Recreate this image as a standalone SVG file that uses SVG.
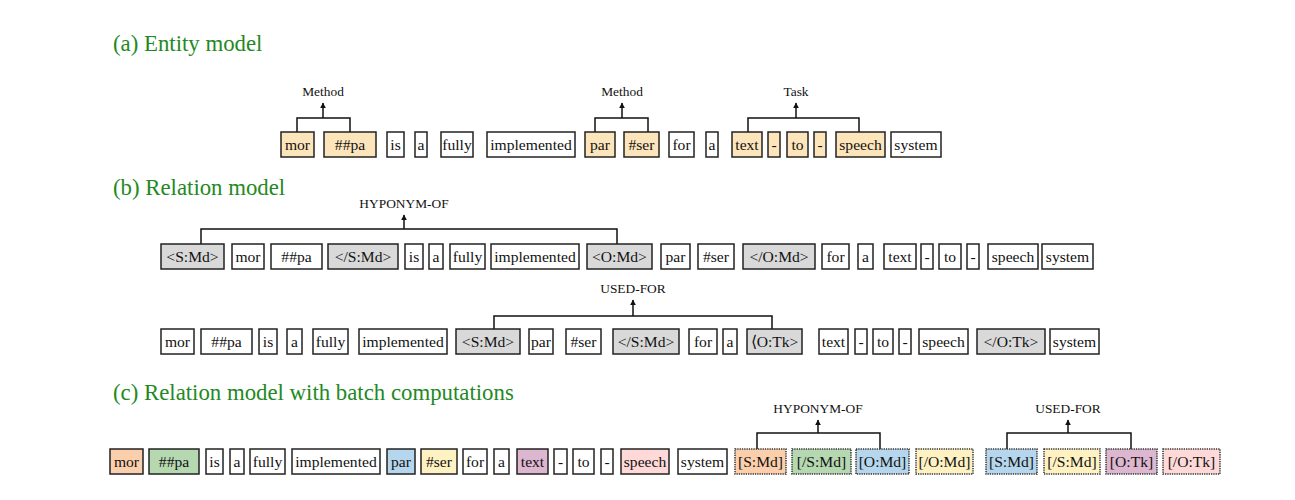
<svg xmlns="http://www.w3.org/2000/svg" width="1295" height="500" viewBox="0 0 1295 500">
<style>
.bg{fill:#fff}
.title{font-family:"Liberation Serif",serif;font-size:22.8px;fill:#23891f}
.lbl{font-family:"Liberation Serif",serif;font-size:13.4px;fill:#111;text-anchor:middle}
.tok rect{fill:#fff;stroke:#222;stroke-width:1.5}
.tok text{font-family:"Liberation Serif",serif;font-size:15.6px;fill:#111;text-anchor:middle}
.tok.o rect{fill:#fde5bb}
.tok.g rect{fill:#d9d9d9}
.tok.pe rect{fill:#fccfac}
.tok.gr rect{fill:#b5d8b0}
.tok.bl rect{fill:#b5d6ec}
.tok.ye rect{fill:#fff2c2}
.tok.pu rect{fill:#ddb6cf}
.tok.pk rect{fill:#ffd8d8}
.tok.d rect{stroke-dasharray:1.3 1;stroke:#333}
.con path{fill:none;stroke:#111;stroke-width:1.5}
</style>
<defs>
<marker id="ah" viewBox="0 0 10 10" refX="9" refY="5" markerWidth="6" markerHeight="7" markerUnits="userSpaceOnUse" orient="auto"><path d="M0,0 L10,5 L0,10 z" fill="#111"/></marker>
</defs>
<rect class="bg" x="0" y="0" width="1295" height="500"/>
<text class="title" x="113" y="51">(a) Entity model</text>
<text class="title" x="113" y="195">(b) Relation model</text>
<text class="title" x="113" y="400">(c) Relation model with batch computations</text>

<g id="labels">
<text class="lbl" x="323" y="96">Method</text>
<text class="lbl" x="622" y="96">Method</text>
<text class="lbl" x="796" y="96">Task</text>
<text class="lbl" x="404" y="208">HYPONYM-OF</text>
<text class="lbl" x="633" y="293">USED-FOR</text>
<text class="lbl" x="818" y="413">HYPONYM-OF</text>
<text class="lbl" x="1068" y="413">USED-FOR</text>
</g>

<g class="con" id="connectors">
<path d="M297,132 V118 H350 V132"/><path d="M323,118 V103" marker-end="url(#ah)"/>
<path d="M595,132 V118 H648 V132"/><path d="M622,118 V103" marker-end="url(#ah)"/>
<path d="M748,132 V118 H859 V132"/><path d="M796,118 V103" marker-end="url(#ah)"/>
<path d="M201,244 V229 H617 V244"/><path d="M404,229 V215" marker-end="url(#ah)"/>
<path d="M494,329 V316 H772 V329"/><path d="M633,316 V300" marker-end="url(#ah)"/>
<path d="M757,449 V433 H880 V449"/><path d="M818,433 V420" marker-end="url(#ah)"/>
<path d="M1007,449 V433 H1131 V449"/><path d="M1068,433 V420" marker-end="url(#ah)"/>
</g>

<g id="row-a">
<g id="a1" class="tok o"><rect x="281" y="132" width="33" height="25"/><text x="297.5" y="150">mor</text></g>
<g id="a2" class="tok o"><rect x="324" y="132" width="52" height="25"/><text x="350" y="150">##pa</text></g>
<g id="a3" class="tok"><rect x="387" y="132" width="17" height="25"/><text x="395.5" y="150">is</text></g>
<g id="a4" class="tok"><rect x="415" y="132" width="12" height="25"/><text x="421" y="150">a</text></g>
<g id="a5" class="tok"><rect x="441" y="132" width="32" height="25"/><text x="457" y="150">fully</text></g>
<g id="a6" class="tok"><rect x="487" y="132" width="88" height="25"/><text x="531" y="150">implemented</text></g>
<g id="a7" class="tok o"><rect x="585" y="132" width="30" height="25"/><text x="600" y="150">par</text></g>
<g id="a8" class="tok o"><rect x="624" y="132" width="35" height="25"/><text x="641.5" y="150">#ser</text></g>
<g id="a9" class="tok"><rect x="669" y="132" width="25" height="25"/><text x="681.5" y="150">for</text></g>
<g id="a10" class="tok"><rect x="706" y="132" width="12" height="25"/><text x="712" y="150">a</text></g>
<g id="a11" class="tok o"><rect x="732" y="132" width="30" height="25"/><text x="747" y="150">text</text></g>
<g id="a12" class="tok o"><rect x="768" y="132" width="12" height="25"/><text x="774" y="150">-</text></g>
<g id="a13" class="tok o"><rect x="787" y="132" width="21" height="25"/><text x="797.5" y="150">to</text></g>
<g id="a14" class="tok o"><rect x="814" y="132" width="12" height="25"/><text x="820" y="150">-</text></g>
<g id="a15" class="tok o"><rect x="836" y="132" width="49" height="25"/><text x="860.5" y="150">speech</text></g>
<g id="a16" class="tok"><rect x="891" y="132" width="50" height="25"/><text x="916" y="150">system</text></g>
</g>

<g id="row-b1">
<g id="b1" class="tok g"><rect x="161" y="244" width="63" height="25"/><text x="192.5" y="262">&lt;S:Md&gt;</text></g>
<g id="b2" class="tok"><rect x="232" y="244" width="32" height="25"/><text x="248" y="262">mor</text></g>
<g id="b3" class="tok"><rect x="271" y="244" width="51" height="25"/><text x="296.5" y="262">##pa</text></g>
<g id="b4" class="tok g"><rect x="328" y="244" width="70" height="25"/><text x="363" y="262">&lt;/S:Md&gt;</text></g>
<g id="b5" class="tok"><rect x="405" y="244" width="18" height="25"/><text x="414" y="262">is</text></g>
<g id="b6" class="tok"><rect x="429" y="244" width="14" height="25"/><text x="436" y="262">a</text></g>
<g id="b7" class="tok"><rect x="450" y="244" width="35" height="25"/><text x="467.5" y="262">fully</text></g>
<g id="b8" class="tok"><rect x="491" y="244" width="88" height="25"/><text x="535" y="262">implemented</text></g>
<g id="b9" class="tok g"><rect x="587" y="244" width="65" height="25"/><text x="619.5" y="262">&lt;O:Md&gt;</text></g>
<g id="b10" class="tok"><rect x="661" y="244" width="29" height="25"/><text x="675.5" y="262">par</text></g>
<g id="b11" class="tok"><rect x="698" y="244" width="36" height="25"/><text x="716" y="262">#ser</text></g>
<g id="b12" class="tok g"><rect x="743" y="244" width="72" height="25"/><text x="779" y="262">&lt;/O:Md&gt;</text></g>
<g id="b13" class="tok"><rect x="822" y="244" width="27" height="25"/><text x="835.5" y="262">for</text></g>
<g id="b14" class="tok"><rect x="858" y="244" width="15" height="25"/><text x="865.5" y="262">a</text></g>
<g id="b15" class="tok"><rect x="884" y="244" width="32" height="25"/><text x="900" y="262">text</text></g>
<g id="b16" class="tok"><rect x="921" y="244" width="12" height="25"/><text x="927" y="262">-</text></g>
<g id="b17" class="tok"><rect x="939" y="244" width="22" height="25"/><text x="950" y="262">to</text></g>
<g id="b18" class="tok"><rect x="967" y="244" width="12" height="25"/><text x="973" y="262">-</text></g>
<g id="b19" class="tok"><rect x="988" y="244" width="50" height="25"/><text x="1013" y="262">speech</text></g>
<g id="b20" class="tok"><rect x="1042" y="244" width="51" height="25"/><text x="1067.5" y="262">system</text></g>
</g>

<g id="row-b2">
<g id="c1" class="tok"><rect x="161" y="329" width="33" height="25"/><text x="177.5" y="347">mor</text></g>
<g id="c2" class="tok"><rect x="201" y="329" width="51" height="25"/><text x="226.5" y="347">##pa</text></g>
<g id="c3" class="tok"><rect x="259" y="329" width="18" height="25"/><text x="268" y="347">is</text></g>
<g id="c4" class="tok"><rect x="287" y="329" width="15" height="25"/><text x="294.5" y="347">a</text></g>
<g id="c5" class="tok"><rect x="313" y="329" width="35" height="25"/><text x="330.5" y="347">fully</text></g>
<g id="c6" class="tok"><rect x="359" y="329" width="88" height="25"/><text x="403" y="347">implemented</text></g>
<g id="c7" class="tok g"><rect x="456" y="329" width="64" height="25"/><text x="488" y="347">&lt;S:Md&gt;</text></g>
<g id="c8" class="tok"><rect x="529" y="329" width="24" height="25"/><text x="541" y="347">par</text></g>
<g id="c9" class="tok"><rect x="566" y="329" width="35" height="25"/><text x="583.5" y="347">#ser</text></g>
<g id="c10" class="tok g"><rect x="613" y="329" width="66" height="25"/><text x="646" y="347">&lt;/S:Md&gt;</text></g>
<g id="c11" class="tok"><rect x="689" y="329" width="28" height="25"/><text x="703" y="347">for</text></g>
<g id="c12" class="tok"><rect x="723" y="329" width="14" height="25"/><text x="730" y="347">a</text></g>
<g id="c13" class="tok g"><rect x="747" y="329" width="55" height="25"/><text x="774.5" y="347">⟨O:Tk&gt;</text></g>
<g id="c14" class="tok"><rect x="819" y="329" width="29" height="25"/><text x="833.5" y="347">text</text></g>
<g id="c15" class="tok"><rect x="855" y="329" width="12" height="25"/><text x="861" y="347">-</text></g>
<g id="c16" class="tok"><rect x="873" y="329" width="20" height="25"/><text x="883" y="347">to</text></g>
<g id="c17" class="tok"><rect x="899" y="329" width="12" height="25"/><text x="905" y="347">-</text></g>
<g id="c18" class="tok"><rect x="919" y="329" width="49" height="25"/><text x="943.5" y="347">speech</text></g>
<g id="c19" class="tok g"><rect x="977" y="329" width="68" height="25"/><text x="1011" y="347">&lt;/O:Tk&gt;</text></g>
<g id="c20" class="tok"><rect x="1050" y="329" width="49" height="25"/><text x="1074.5" y="347">system</text></g>
</g>

<g id="row-c">
<g id="d1" class="tok pe"><rect x="110" y="449" width="33" height="25"/><text x="126.5" y="467">mor</text></g>
<g id="d2" class="tok gr"><rect x="149" y="449" width="50" height="25"/><text x="174" y="467">##pa</text></g>
<g id="d3" class="tok"><rect x="206" y="449" width="17" height="25"/><text x="214.5" y="467">is</text></g>
<g id="d4" class="tok"><rect x="230" y="449" width="14" height="25"/><text x="237" y="467">a</text></g>
<g id="d5" class="tok"><rect x="250" y="449" width="35" height="25"/><text x="267.5" y="467">fully</text></g>
<g id="d6" class="tok"><rect x="292" y="449" width="88" height="25"/><text x="336" y="467">implemented</text></g>
<g id="d7" class="tok bl"><rect x="387" y="449" width="28" height="25"/><text x="401" y="467">par</text></g>
<g id="d8" class="tok ye"><rect x="421" y="449" width="36" height="25"/><text x="439" y="467">#ser</text></g>
<g id="d9" class="tok"><rect x="463" y="449" width="24" height="25"/><text x="475" y="467">for</text></g>
<g id="d10" class="tok"><rect x="494" y="449" width="15" height="25"/><text x="501.5" y="467">a</text></g>
<g id="d11" class="tok pu"><rect x="517" y="449" width="31" height="25"/><text x="532.5" y="467">text</text></g>
<g id="d12" class="tok"><rect x="554" y="449" width="13" height="25"/><text x="560.5" y="467">-</text></g>
<g id="d13" class="tok"><rect x="573" y="449" width="21" height="25"/><text x="583.5" y="467">to</text></g>
<g id="d14" class="tok"><rect x="601" y="449" width="12" height="25"/><text x="607" y="467">-</text></g>
<g id="d15" class="tok pk"><rect x="621" y="449" width="48" height="25"/><text x="645" y="467">speech</text></g>
<g id="d16" class="tok"><rect x="678" y="449" width="49" height="25"/><text x="702.5" y="467">system</text></g>
<g id="d17" class="tok pe d"><rect x="735" y="449" width="51" height="25"/><text x="760.5" y="467">[S:Md]</text></g>
<g id="d18" class="tok gr d"><rect x="792" y="449" width="59" height="25"/><text x="821.5" y="467">[/S:Md]</text></g>
<g id="d19" class="tok bl d"><rect x="856" y="449" width="53" height="25"/><text x="882.5" y="467">[O:Md]</text></g>
<g id="d20" class="tok ye d"><rect x="916" y="449" width="57" height="25"/><text x="944.5" y="467">[/O:Md]</text></g>
<g id="d21" class="tok bl d"><rect x="986" y="449" width="51" height="25"/><text x="1011.5" y="467">[S:Md]</text></g>
<g id="d22" class="tok ye d"><rect x="1044" y="449" width="56" height="25"/><text x="1072" y="467">[/S:Md]</text></g>
<g id="d23" class="tok pu d"><rect x="1106" y="449" width="51" height="25"/><text x="1131.5" y="467">[O:Tk]</text></g>
<g id="d24" class="tok pk d"><rect x="1163" y="449" width="57" height="25"/><text x="1191.5" y="467">[/O:Tk]</text></g>
</g>
</svg>
